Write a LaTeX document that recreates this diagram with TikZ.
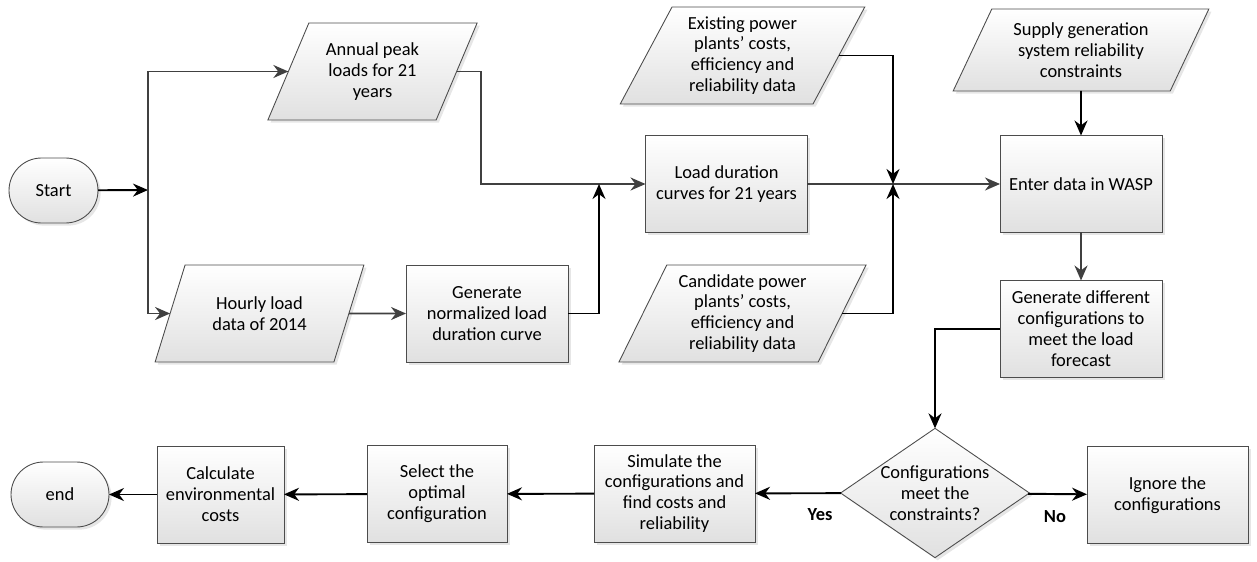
\documentclass[tikz,border=0pt]{standalone}
\usepackage{fontspec}
\setmainfont{Carlito}
\usetikzlibrary{shapes.geometric,arrows.meta,shadows}

\begin{document}
\begin{tikzpicture}[
		x=0.02cm, y=-0.02cm,
		font=\fontsize{10.5}{11.9}\selectfont,
		basebox/.style={
		% The border:
		draw=black!70, line width=0.5pt,
		% The filling:
		top color=white, bottom color=black!12,
		drop shadow={shadow xshift=1.5pt, shadow yshift=-1.5pt, opacity=0.2},
		% Text
		align=center, inner sep=2pt, outer sep=0pt
		},
		procbox/.style={basebox, rectangle, minimum width=32.4mm, minimum height=19.4mm},
		termbox/.style={basebox, rectangle, rounded corners=6.5mm, minimum width=17.8mm, minimum height=13mm},
		databox/.style={basebox, trapezium, trapezium left angle=63.5, trapezium right angle=116.5,
			trapezium stretches=true, minimum height=19.4mm},
		decbox/.style={basebox, diamond, shape aspect=1.46, minimum width=37.4mm, minimum height=25.6mm, inner sep=0pt},
		answer/.style={font=\fontsize{10.5}{11.9}\selectfont\bfseries},
		blkarrow/.style={-{Stealth[length=3mm, width=2.6mm]}, line width=1.1pt, draw=black},
		gryarrow/.style={blkarrow, draw=black!75}
	]
	\useasboundingbox (0,0) rectangle (1257,561);

	% left part
	\node (start)[termbox] at (53.5,190.5) {Start};
	\node (ap)[databox, minimum width=42.2mm] at (372.5,71.5) {Annual peak\\loads for 21\\years};
	\node (hl)[databox, minimum width=42mm] at (259.5,313.5) {Hourly load\\data of 2014};
	\node (gn)[procbox] at (487,313.5) {Generate\\normalized load\\duration curve};
	\node (ld)[procbox] at (726.5,184) {Load duration\\curves for 21 years};

	% input data
	\node (ex)[databox, minimum width=49mm] at (742.5,55.5) {Existing power\\plants’ costs,\\efficiency and\\reliability data};
	\node (ca)[databox, minimum width=49.5mm] at (742.5,313.5) {Candidate power\\plants’ costs,\\efficiency and\\reliability data};
	\node (su)[databox, minimum width=51.2mm, minimum height=16.4mm] at (1081,50) {Supply generation\\system reliability\\constraints};

	% WASP part
	\node (en)[procbox] at (1081,184) {Enter data in WASP};
	\node (gd)[procbox] at (1081,329) {Generate different\\configurations to\\meet the load\\forecast};
	\node (dec)[decbox] at (935,493) {Configurations\\meet the\\constraints?};
	\node (ig)[procbox, minimum width=32.2mm] at (1167.5,495) {Ignore the\\configurations};
	\node (sim)[procbox, minimum width=32.2mm] at (674.5,493.5) {Simulate the\\configurations and\\find costs and\\reliability};
	\node (sel)[procbox, minimum width=28mm] at (437,494) {Select the\\optimal\\configuration};
	\node (calc)[procbox, minimum width=25.4mm] at (220.5,494.5) {Calculate\\environmental\\costs};
	\node (end)[termbox, minimum width=19.6mm] at (60,494.5) {end};

	\node (yes)[answer] at (820,515) {Yes};
	\node (no)[answer] at (1055,517) {No};

	\coordinate (j1) at (148,190);
	\coordinate (j2) at (893,184);
	\coordinate (j3) at (599,184);

	\draw [blkarrow] (start) -- (j1);
	\draw [gryarrow] (j1) |- (ap);
	\draw [gryarrow] (j1) |- (hl);
	\draw [gryarrow] (hl) -- (gn);
	\draw [gryarrow] (ap.0) -- ++(24,0) |- (ld);
	\draw [blkarrow] (gn) -| (j3);
	\draw [gryarrow] (ld) -- (en);
	\draw [blkarrow] (ex.0) -| (j2);
	\draw [blkarrow] (ca.0) -| (j2);
	\draw [blkarrow] (su) -- (en);
	\draw [gryarrow] (en) -- (gd);
	\draw [blkarrow] (gd) -| (dec);
	\draw [blkarrow] (dec) -- (sim);
	\draw [blkarrow] (dec) -- (ig);
	\draw [blkarrow] (sim) -- (sel);
	\draw [blkarrow] (sel) -- (calc);
	\draw [blkarrow] (calc) -- (end);
\end{tikzpicture}
\end{document}
